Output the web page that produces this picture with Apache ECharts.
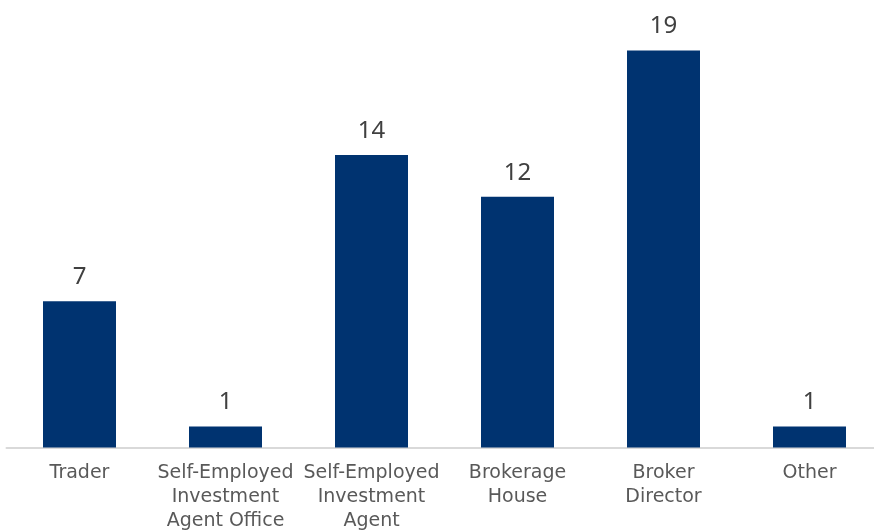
<!DOCTYPE html>
<html><head><meta charset="utf-8">
<script src="https://cdn.jsdelivr.net/npm/echarts@6/dist/echarts.min.js"></script>
<style>html,body{margin:0;padding:0;background:#fff}#c{width:874px;height:531px}</style>
</head><body><div id="c"></div>
<script>
const categories = ['Trader', 'Self-Employed\nInvestment\nAgent Office', 'Self-Employed\nInvestment\nAgent', 'Brokerage\nHouse', 'Broker\nDirector', 'Other'];
const values = [7, 1, 14, 12, 19, 1];

const chart = echarts.init(document.getElementById('c'));
chart.setOption({
  animation: false,
  grid: { left: 6.5, width: 876, top: 29.5, bottom: 83.5, containLabel: false, outerBoundsMode: 'none' },
  xAxis: {
    type: 'category', data: categories,
    axisLine: { lineStyle: { color: '#d9d9d9', width: 2 } },
    axisTick: { show: false },
    axisLabel: { color: '#595959', fontSize: 19, lineHeight: 24, margin: 14, fontFamily: 'DejaVu Sans', interval: 0 }
  },
  yAxis: { type: 'value', min: 0, max: 20, show: false, splitLine: { show: false } },
  series: [{
    type: 'bar', data: values, barWidth: '50%',
    itemStyle: { color: '#003370' },
    label: { show: true, position: 'top', distance: 12, color: '#404040', fontSize: 24, fontFamily: 'Noto Sans' }
  }]
});
</script></body></html>
